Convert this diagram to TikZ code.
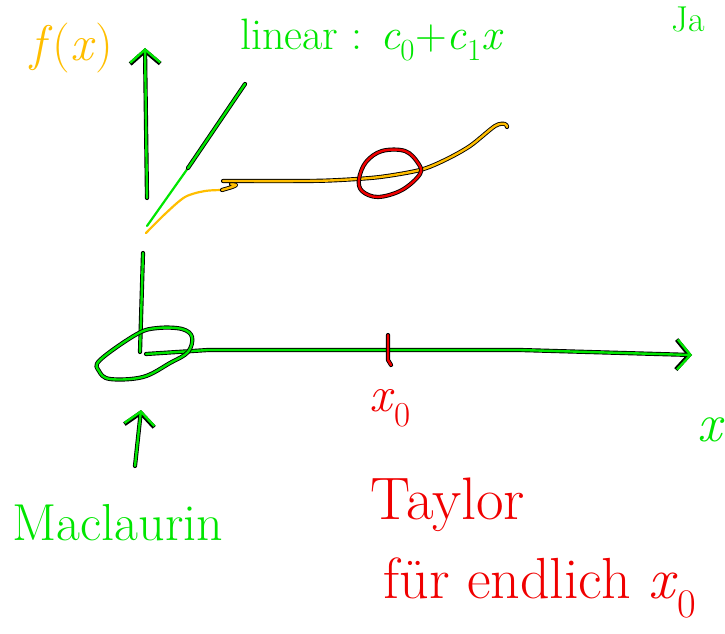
\documentclass[tikz,border=0pt]{standalone}
\usetikzlibrary{arrows.meta,positioning,calc}
\definecolor{pengreen}{RGB}{0,230,0}
\definecolor{penred}{RGB}{240,0,0}
\definecolor{penorange}{RGB}{255,190,0}
\tikzset{
  pen/.style={draw=#1, line width=2.4pt, line cap=round, line join=round,
    preaction={draw=black, line width=4.2pt, line cap=round, line join=round}},
  thinpen/.style={draw=#1, line width=2.2pt, line cap=round},
  barb/.style={-{Straight Barb[length=13pt,width=30pt]}},
  note/.style={inner sep=1pt, font=\fontsize{#1}{#1}\selectfont}
}
\newcommand{\var}[1]{\textit{#1}}

\begin{document}
\begin{tikzpicture}[x=1pt,y=-1pt]
    \useasboundingbox (0,0) rectangle (725,634);

    % Axes
    \coordinate (origin) at (140,352);
    \coordinate (ytip) at (145,48);
    \coordinate (xstart) at (146,354);
    \coordinate (xtip) at (692,355);
    \coordinate (ygapup) at (147,198);
    \coordinate (ygapdown) at (143,253);
    \draw[pen=pengreen, barb] (ygapup) -- (ytip);
    \draw[pen=pengreen] (origin) -- (ygapdown);
    \draw[pen=pengreen, barb] (xstart) -- (208,350) -- (520,350) -- (xtip);

    % Loop round the origin
    \draw[pen=pengreen] plot[smooth cycle,tension=0.6] coordinates {
        (100,360) (137,334) (158,328) (182,329) (192,337)
        (188,352) (170,363) (143,377) (110,379) (99,371)
    };

    % Linear approximation
    \coordinate (linlow) at (147,226);
    \coordinate (linmid) at (188,168);
    \coordinate (linhigh) at (245,84);
    \draw[thinpen=pengreen] (linlow) -- (linmid);
    \draw[pen=pengreen] (linmid) -- (linhigh);

    % Function f(x)
    \draw[thinpen=penorange] plot[smooth] coordinates {
        (146,233) (165,214) (185,197) (205,191) (224,190)
    };
    \draw[pen=penorange] plot[smooth] coordinates {
        (222,190) (232,187) (236,185) (231,184)
    };
    \draw[pen=penorange] plot[smooth] coordinates {
        (223,181) (305,181) (340,180) (380,177) (420,170)
        (445,160) (470,146) (495,126) (505,124) (507,127)
    };

    % Expansion point x0
    \draw[pen=penred] plot[smooth cycle,tension=0.6] coordinates {
        (366,162) (382,151) (405,151) (418,163) (420,174)
        (402,190) (378,197) (362,191) (359,179)
    };
    \coordinate (tick) at (388,350);
    \draw[pen=penred] ($(tick)+(0,-15)$) -- ($(tick)+(0,10)$) -- ($(tick)+(3,15)$);

    % Labels
    \node[note=50, text=penorange] (fx) at (72,48) {\var{f}(\var{x})};
    \node[note=44, text=pengreen] (lin) at (372,40)
        {linear : \var{c}\textsubscript{0}+\var{c}\textsubscript{1}\var{x}};
    \node[note=36, text=pengreen, anchor=north] (jac) at (688,6) {Ja};
    \node[note=50, text=penred] (xnull) at (390,408) {\var{x}\textsubscript{0}};
    \node[note=54, text=pengreen, anchor=west] (xlab) at (696,430) {\var{x}};
    \node[note=52, text=pengreen] (mac) at (118,523) {Maclaurin};
    \node[note=60, text=penred] (taylor) at (448,505) {Taylor};
    \node[note=58, text=penred] (fuer) at (540,588) {für endlich \var{x}\textsubscript{0}};

    % Pointer to the origin
    \coordinate (macfrom) at (135,466);
    \coordinate (macto) at (141,410);
    \draw[pen=pengreen, barb] (macfrom) -- (macto);
\end{tikzpicture}
\end{document}
